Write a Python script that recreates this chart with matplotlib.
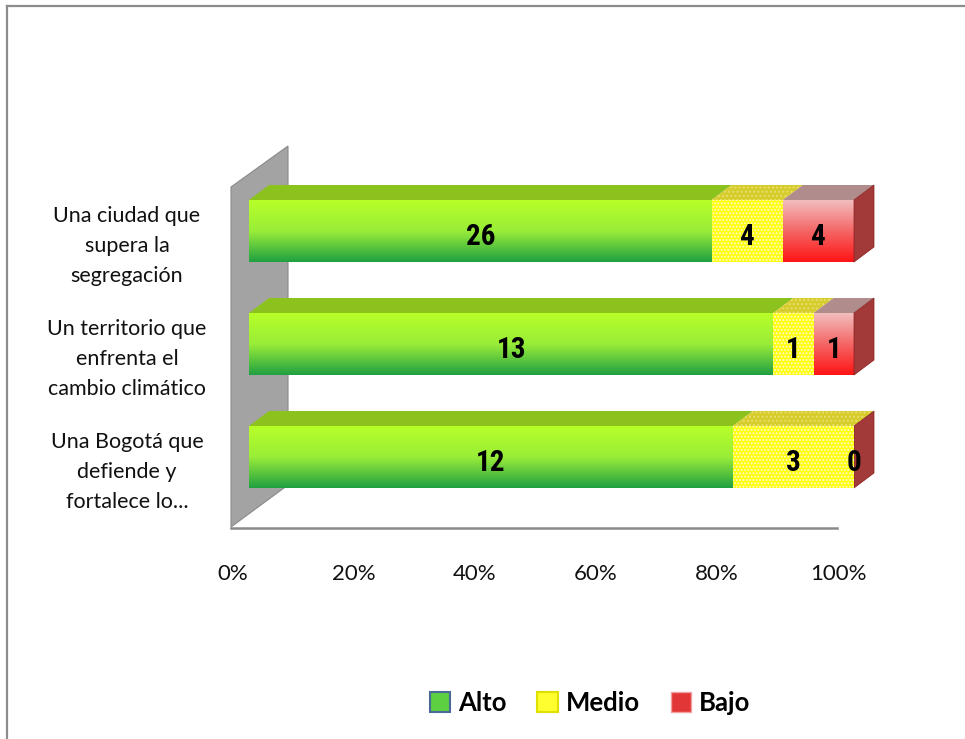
import numpy as np
import matplotlib
matplotlib.use("Agg")
import matplotlib.pyplot as plt
from matplotlib.patches import Polygon, Patch
from matplotlib.lines import Line2D
from matplotlib.transforms import ScaledTranslation, blended_transform_factory

# -------- DATA ------------------------------------------------------
categories = [
    "Una ciudad que\nsupera la\nsegregación",
    "Un territorio que\nenfrenta el\ncambio climático",
    "Una Bogotá que\ndefiende y\nfortalece lo...",
]
series_names = ["Alto", "Medio", "Bajo"]
alto = [26, 13, 12]
medio = [4, 1, 3]
bajo = [4, 1, 0]
tick_values = [0, 0.2, 0.4, 0.6, 0.8, 1.0]
tick_labels = ["0%", "20%", "40%", "60%", "80%", "100%"]
# --------------------------------------------------------------------

W, H = 965, 739
DPI = 100

plt.rcParams["font.family"] = ["Lato", "DejaVu Sans"]
plt.rcParams["hatch.linewidth"] = 0.9

fig = plt.figure(figsize=(W / DPI, H / DPI), dpi=DPI)
fig.patch.set_facecolor("white")


def fx(px):
    return px / W


def fy(py):
    return 1 - py / H


# axes: front-face scale 0..100% maps to 249..854 px, floor at 528 px
ax = fig.add_axes([fx(249), fy(528), 605 / W, 378 / H])
ax.set_facecolor("none")
for s in ax.spines.values():
    s.set_visible(False)

n = len(categories)
ys = np.arange(n)[::-1].astype(float)
ax.set_xlim(0, 1)
ax.set_ylim(-71 / 113, 2 + 81 / 113)

bar_h = 62 / 113
dx = 20 / 605
dy = 15 / 113

# frame and wall (decoration, in figure pixels)
frame_c = "#8c8c8c"
fig.add_artist(Line2D([fx(7), fx(965)], [fy(6), fy(6)], color=frame_c, lw=1.6))
fig.add_artist(Line2D([fx(7), fx(7)], [fy(6), fy(739)], color=frame_c, lw=1.6))

wall = Polygon([(fx(231), fy(187)), (fx(288), fy(146)), (fx(288), fy(485)),
                (fx(231), fy(527))], closed=True, transform=fig.transFigure,
               facecolor="#a3a3a3", edgecolor="#8a8a8a", lw=0.8, zorder=0)
fig.add_artist(wall)
fig.add_artist(Line2D([fx(231), fx(837)], [fy(528), fy(528)],
                      color="#8a8a8a", lw=1.8, zorder=0))

vals = np.array([alto, medio, bajo], dtype=float)
totals = vals.sum(axis=0)
pct = vals / totals

green_grad = [(0.72, 1.0, 0.16), (0.60, 0.93, 0.22), (0.13, 0.63, 0.26)]
red_grad = [(0.95, 0.74, 0.74), (0.96, 0.40, 0.40), (1.0, 0.08, 0.08)]
top_cols = ["#8cc21e", "#d6cc2c", "#b08c8c"]
label_font = ["Liberation Sans Narrow", "Roboto Condensed", "Roboto", "DejaVu Sans"]


def vgrad(stops, n=64):
    t = np.linspace(0, 1, n)
    pos = np.linspace(0, 1, len(stops))
    arr = np.zeros((n, 1, 3))
    for c in range(3):
        arr[:, 0, c] = np.interp(t, pos, [s[c] for s in stops])
    return arr[::-1]  # origin lower -> first stop at top


lefts = np.zeros(n)
for k, name in enumerate(series_names):
    w = pct[k]
    if name == "Medio":
        bars = ax.barh(ys, w, left=lefts, height=bar_h, color="#ffff10",
                       edgecolor="#fffbd0", hatch=".....", lw=0, zorder=3)
    else:
        bars = ax.barh(ys, w, left=lefts, height=bar_h, color="none",
                       lw=0, zorder=3)
        stops = green_grad if name == "Alto" else red_grad
        for b, y, l, ww in zip(bars, ys, lefts, w):
            if ww <= 0:
                continue
            im = ax.imshow(vgrad(stops), extent=(l, l + ww, y - bar_h / 2, y + bar_h / 2),
                           origin="lower", aspect="auto", zorder=2.5, interpolation="bilinear")
            im.set_clip_path(b)
    # top faces
    for y, l, ww in zip(ys, lefts, w):
        if ww <= 0:
            continue
        yt = y + bar_h / 2
        top = Polygon([(l, yt), (l + ww, yt), (l + ww + dx, yt + dy), (l + dx, yt + dy)],
                      closed=True, facecolor=top_cols[k], lw=0, zorder=2.8, clip_on=False,
                      hatch="...." if name == "Medio" else None,
                      edgecolor="#e8e070" if name == "Medio" else "none")
        ax.add_patch(top)
    # value labels
    for y, l, ww, v in zip(ys, lefts, w, vals[k]):
        ax.text(l + ww / 2, y - 6 / 113, f"{int(v)}", ha="center", va="center",
                fontsize=21, fontweight="bold", family=label_font, zorder=5)
    lefts = lefts + w

# right side faces
for y in ys:
    yb, yt = y - bar_h / 2, y + bar_h / 2
    side = Polygon([(1, yb), (1, yt), (1 + dx, yt + dy), (1 + dx, yb + dy)],
                   closed=True, facecolor="#a23a3a", edgecolor="#8a1c1c", lw=0.5,
                   zorder=2.8, clip_on=False)
    ax.add_patch(side)

# category labels
tr = blended_transform_factory(ax.transAxes, ax.transData)
for y, lab in zip(ys, categories):
    ax.text((127 - 249) / 605, y - 15 / 113, lab, transform=tr, ha="center",
            va="center", multialignment="center", fontsize=15.5, linespacing=1.6,
            color="#111111")

ax.set_yticks([])
ax.set_xticks(tick_values)
ax.set_xticklabels(tick_labels, fontsize=16, color="#111111")
ax.tick_params(axis="x", length=0, pad=26)
for lbl in ax.get_xticklabels():
    lbl.set_transform(lbl.get_transform() + ScaledTranslation(-0.16, 0, fig.dpi_scale_trans))

handles = [
    Patch(facecolor="#5cd040", edgecolor="#4a6a9a", lw=1.5),
    Patch(facecolor="#ffff30", edgecolor="#e0e000", lw=1.5),
    Patch(facecolor="#e23636", edgecolor="#f0a0a0", lw=1.0),
]
fig.legend(handles, series_names, loc="center", bbox_to_anchor=(fx(590), fy(703)),
           ncol=3, frameon=False, handlelength=0.8, handleheight=0.8,
           handletextpad=0.3, columnspacing=1.2,
           prop={"family": "Lato", "weight": "bold", "size": 18.5})

fig.savefig("out.png", dpi=DPI, facecolor="white")
